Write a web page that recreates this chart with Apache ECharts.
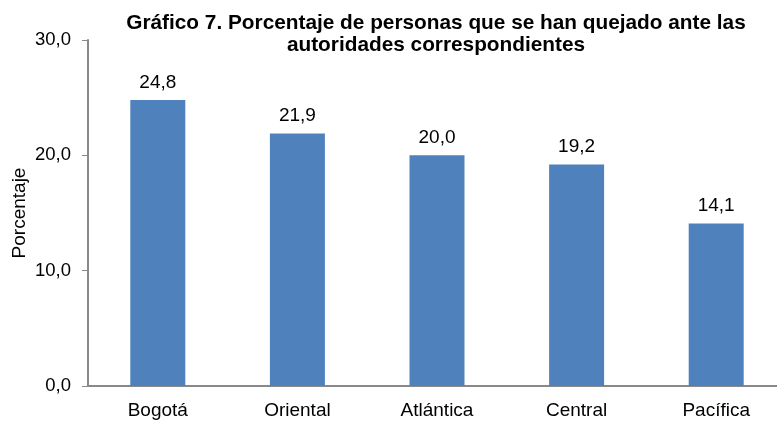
<!DOCTYPE html>
<html>
<head>
<meta charset="utf-8">
<script src="https://cdn.jsdelivr.net/npm/echarts@6/dist/echarts.min.js"></script>
<style>
  html, body { margin: 0; padding: 0; background: #fff; }
  #chart { width: 777px; height: 423px; }
</style>
</head>
<body>
<div id="chart"></div>
<script>
const regiones = ['Bogotá', 'Oriental', 'Atlántica', 'Central', 'Pacífica'];
const porcentajes = [24.8, 21.9, 20.0, 19.2, 14.1];

const fmt = (v) => Number(v).toFixed(1).replace('.', ',');
const font = 'Liberation Sans, Arial, sans-serif';

const chart = echarts.init(document.getElementById('chart'));
chart.setOption({
  animation: false,
  title: {
    text: 'Gráfico 7. Porcentaje de personas que se han quejado ante las\nautoridades correspondientes',
    left: 431,
    top: 7,
    textAlign: 'center',
    textStyle: {
      fontFamily: font,
      fontSize: 20.8,
      fontWeight: 'bold',
      color: '#000',
      lineHeight: 22,
    },
  },
  grid: {
    left: 88,
    top: 40,
    width: 698,
    height: 346,
    outerBoundsMode: 'none',
    containLabel: false,
  },
  xAxis: {
    type: 'category',
    data: regiones,
    axisLine: { lineStyle: { color: '#898989', width: 2 } },
    axisTick: { length: 6, lineStyle: { color: '#898989' } },
    axisLabel: { color: '#000', fontFamily: font, fontSize: 19, margin: 15 },
  },
  yAxis: {
    type: 'value',
    min: 0,
    max: 30,
    interval: 10,
    name: 'Porcentaje',
    nameLocation: 'middle',
    nameGap: 59,
    nameMoveOverlap: false,
    nameTextStyle: { color: '#000', fontFamily: font, fontSize: 19 },
    axisLine: { show: true, lineStyle: { color: '#898989', width: 2 } },
    axisTick: { show: true, length: 6, lineStyle: { color: '#898989' } },
    splitLine: { show: false },
    axisLabel: { color: '#000', fontFamily: font, fontSize: 18.5, margin: 17, formatter: fmt },
  },
  series: [
    {
      type: 'bar',
      data: porcentajes,
      barWidth: 55,
      itemStyle: { color: '#4F81BD' },
      label: {
        show: true,
        position: 'top',
        distance: 8,
        color: '#000',
        fontFamily: font,
        fontSize: 19,
        formatter: (p) => fmt(p.value),
      },
    },
  ],
});
</script>
</body>
</html>
